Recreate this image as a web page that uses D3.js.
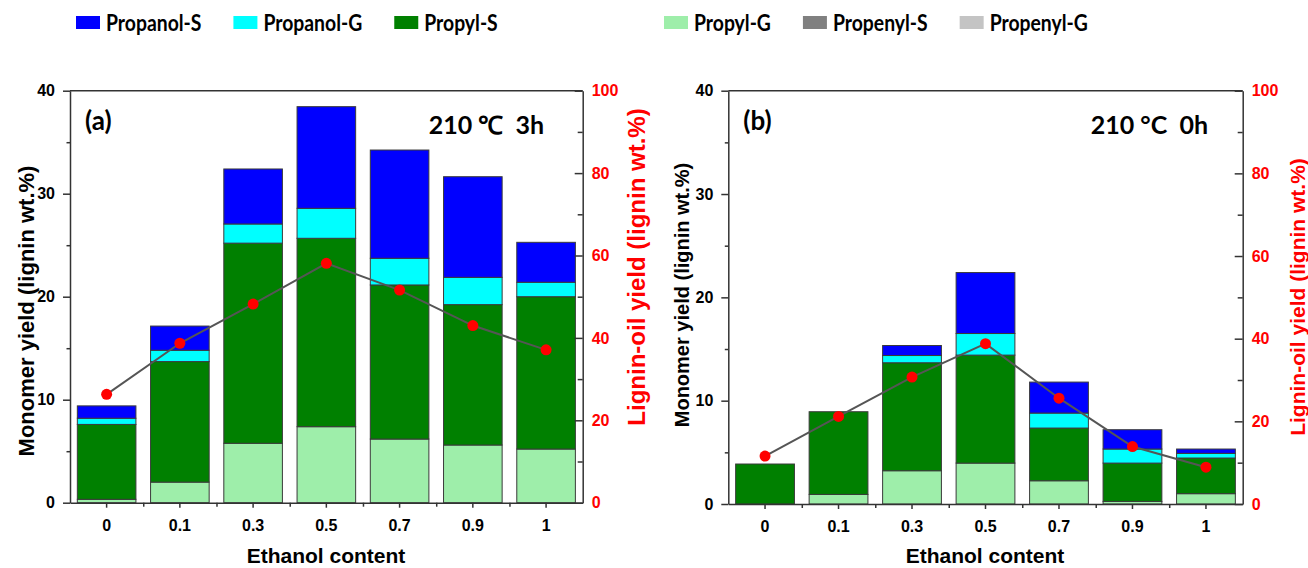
<html>
<head>
<script src="https://d3js.org/d3.v7.min.js"></script>
<style>
  body { margin: 0; background: #fff; }
  svg { font-family: "Liberation Sans", Arial, sans-serif; }
  .axis text { font-family: "Liberation Sans", Arial, sans-serif; font-size: 16px; font-weight: bold; }
  .axis path, .axis line { stroke: #333; stroke-width: 1.5px; }
  .legend text, .tag { font-family: Lato, "Open Sans", sans-serif; font-weight: bold; }
</style>
</head>
<body>
<div id="chart"></div>
<script>
// categories and series
var categories = ["0", "0.1", "0.3", "0.5", "0.7", "0.9", "1"];
var seriesNames = ["Propanol-S", "Propanol-G", "Propyl-S", "Propyl-G", "Propenyl-S", "Propenyl-G"];
var seriesColors = ["#0000ff", "#00ffff", "#008000", "#9eeeaa", "#808080", "#c4c4c4"];
var stackOrder = ["Propyl-G", "Propyl-S", "Propanol-G", "Propanol-S", "Propenyl-S", "Propenyl-G"];

// panel (a) 210 C 3h
var aPropylG   = [0.33, 2.0, 5.77, 7.38, 6.18, 5.6, 5.21];
var aPropylS   = [7.27, 11.7, 19.43, 18.29, 14.96, 13.63, 14.79];
var aPropanolG = [0.6, 1.1, 1.86, 2.91, 2.59, 2.65, 1.4];
var aPropanolS = [1.2, 2.35, 5.34, 9.87, 10.51, 9.77, 3.88];
var aPropenylS = [0, 0, 0, 0, 0, 0, 0];
var aPropenylG = [0, 0, 0, 0, 0, 0, 0];
var aLigninOil = [26.3, 38.7, 48.2, 58.1, 51.6, 43.0, 37.1];

// panel (b) 210 C 0h
var bPropylG   = [0, 0.93, 3.22, 3.96, 2.25, 0.25, 1.0];
var bPropylS   = [3.87, 8.0, 10.45, 10.45, 5.1, 3.71, 3.45];
var bPropanolG = [0, 0, 0.7, 2.09, 1.45, 1.36, 0.45];
var bPropanolS = [0, 0, 0.97, 5.9, 3.0, 1.87, 0.42];
var bPropenylS = [0, 0, 0, 0, 0, 0, 0];
var bPropenylG = [0, 0, 0, 0, 0, 0, 0];
var bLigninOil = [11.6, 21.2, 30.7, 38.8, 25.6, 13.9, 8.9];

var leftTicks = [0, 10, 20, 30, 40];
var leftMinor = [5, 15, 25, 35];
var rightTicks = [0, 20, 40, 60, 80, 100];
var rightMinor = [10, 30, 50, 70, 90];

var width = 1308, height = 568;

var svg = d3.select("#chart").append("svg")
  .attr("width", width)
  .attr("height", height);

var color = d3.scaleOrdinal().domain(seriesNames).range(seriesColors);

function buildRows(propylG, propylS, propanolG, propanolS, propenylS, propenylG) {
  return categories.map(function(c, i) {
    return {
      cat: c,
      "Propyl-G": propylG[i], "Propyl-S": propylS[i],
      "Propanol-G": propanolG[i], "Propanol-S": propanolS[i],
      "Propenyl-S": propenylS[i], "Propenyl-G": propenylG[i]
    };
  });
}

function drawPanel(p) {
  var g = svg.append("g");
  var x = d3.scaleBand().domain(categories).range([p.x0, p.x1])
    .paddingInner(0.2).paddingOuter(0.1);
  var y = d3.scaleLinear().domain([0, 40]).range([p.y1, p.y0]);
  var y2 = d3.scaleLinear().domain([0, 100]).range([p.y1, p.y0]);

  var stacked = d3.stack().keys(stackOrder)(p.rows);

  g.append("g").selectAll("g")
    .data(stacked).enter()
    .append("g")
    .attr("fill", d => color(d.key))
    .selectAll("rect")
    .data(d => d.filter(s => s[1] - s[0] > 0)).enter()
    .append("rect")
    .attr("x", d => x(d.data.cat))
    .attr("width", x.bandwidth())
    .attr("y", d => y(d[1]))
    .attr("height", d => y(d[0]) - y(d[1]))
    .attr("stroke", "#3a3a3a")
    .attr("stroke-width", 1);

  // frame top
  g.append("line").attr("x1", p.x0).attr("x2", p.x1).attr("y1", p.y0).attr("y2", p.y0)
    .attr("stroke", "#333").attr("stroke-width", 1.5);

  // left axis
  g.append("g").attr("class", "axis")
    .attr("transform", `translate(${p.x0},0)`)
    .call(d3.axisLeft(y).tickValues(leftTicks).tickSize(7).tickSizeOuter(0).tickPadding(8));
  g.append("g").attr("class", "axis")
    .attr("transform", `translate(${p.x0},0)`)
    .call(d3.axisLeft(y).tickValues(leftMinor).tickSize(3.5).tickSizeOuter(0).tickFormat(""))
    .select(".domain").remove();

  // right axis
  var ra = g.append("g").attr("class", "axis")
    .attr("transform", `translate(${p.x1},0)`)
    .call(d3.axisRight(y2).tickValues(rightTicks).tickSize(-8).tickSizeOuter(0).tickPadding(9));
  ra.selectAll("text").attr("fill", "#ff0000");
  g.append("g").attr("class", "axis")
    .attr("transform", `translate(${p.x1},0)`)
    .call(d3.axisRight(y2).tickValues(rightMinor).tickSize(-5).tickSizeOuter(0).tickFormat(""))
    .select(".domain").remove();

  // bottom axis
  g.append("g").attr("class", "axis")
    .attr("transform", `translate(0,${p.y1})`)
    .call(d3.axisBottom(x).tickSize(5).tickSizeOuter(0).tickPadding(12));
  var minorX = categories.slice(0, -1).map(c => x(c) + x.step() * 0.9 + 0.5);
  g.append("g").selectAll("line")
    .data(minorX).enter()
    .append("line")
    .attr("x1", d => d).attr("x2", d => d)
    .attr("y1", p.y1).attr("y2", p.y1 + 4)
    .attr("stroke", "#333").attr("stroke-width", 1.5);

  // lignin-oil line
  var line = d3.line()
    .x((d, i) => x(categories[i]) + x.bandwidth() / 2)
    .y(d => y2(d));
  g.append("path")
    .attr("d", line(p.oil))
    .attr("fill", "none")
    .attr("stroke", "#555")
    .attr("stroke-width", 2);
  g.append("g").selectAll("circle")
    .data(p.oil).enter()
    .append("circle")
    .attr("cx", (d, i) => x(categories[i]) + x.bandwidth() / 2)
    .attr("cy", d => y2(d))
    .attr("r", 5.5)
    .attr("fill", "#ff0000");

  // titles
  g.append("text")
    .attr("transform", `translate(${p.leftTitleX},${p.leftTitleY}) rotate(-90)`)
    .attr("text-anchor", "middle")
    .style("font-size", p.leftTitleSize + "px").style("font-weight", "bold")
    .text("Monomer yield (lignin wt.%)");
  g.append("text")
    .attr("transform", `translate(${p.rightTitleX},${p.rightTitleY}) rotate(-90)`)
    .attr("text-anchor", "middle")
    .attr("fill", "#ff0000")
    .style("font-size", p.rightTitleSize + "px").style("font-weight", "bold")
    .text("Lignin-oil yield (lignin wt.%)");
  g.append("text")
    .attr("x", p.xTitleX).attr("y", 563)
    .attr("text-anchor", "middle")
    .style("font-size", "21px").style("font-weight", "bold")
    .text("Ethanol content");

  g.append("text").attr("class", "tag")
    .attr("x", p.x0 + 15).attr("y", 130)
    .style("font-size", "26px")
    .text(p.label);
  g.append("text").attr("class", "tag")
    .attr("x", p.condX).attr("y", 134)
    .attr("text-anchor", "end")
    .style("font-size", "25px")
    .style("white-space", "pre")
    .text(p.cond);
}

drawPanel({
  x0: 70, x1: 582.7, y0: 90.7, y1: 502.7,
  rows: buildRows(aPropylG, aPropylS, aPropanolG, aPropanolS, aPropenylS, aPropenylG),
  oil: aLigninOil,
  leftTitleX: 34, leftTitleY: 311, leftTitleSize: 22,
  rightTitleX: 645, rightTitleY: 267, rightTitleSize: 24,
  xTitleX: 326, label: "(a)", cond: "210 \u2103  3h", condX: 544
});

drawPanel({
  x0: 728.3, x1: 1242.7, y0: 90.7, y1: 504,
  rows: buildRows(bPropylG, bPropylS, bPropanolG, bPropanolS, bPropenylS, bPropenylG),
  oil: bLigninOil,
  leftTitleX: 689, leftTitleY: 295, leftTitleSize: 20,
  rightTitleX: 1305, rightTitleY: 297, rightTitleSize: 21,
  xTitleX: 985, label: "(b)", cond: "210 \u00b0C  0h", condX: 1208
});

// legend, two groups across the top; Calibri-like narrow bold text
var legendGroups = [[0, 1, 2], [3, 4, 5]];
var legendStarts = [76, 664];
var legend = svg.append("g").attr("class", "legend");
legendGroups.forEach(function(idx, gi) {
  var cx = legendStarts[gi];
  idx.forEach(function(i) {
    var name = seriesNames[i];
    legend.append("rect")
      .attr("x", cx).attr("y", 16).attr("width", 24).attr("height", 13)
      .attr("fill", color(name));
    var t = legend.append("text")
      .attr("x", cx + 30).attr("y", 31)
      .style("font-size", "22px")
      .text(name);
    var w = t.node().getComputedTextLength() * 0.88;
    t.attr("textLength", w).attr("lengthAdjust", "spacingAndGlyphs");
    cx += 30 + w + 32;
  });
});
</script>
</body>
</html>
